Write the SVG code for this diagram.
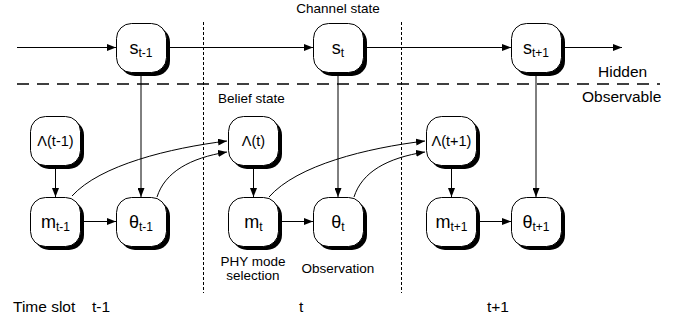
<svg xmlns="http://www.w3.org/2000/svg" width="693" height="320" viewBox="0 0 693 320">
  <defs>
    <marker id="arrow" markerUnits="userSpaceOnUse" markerWidth="9" markerHeight="7" refX="9" refY="3.5" orient="auto">
      <path d="M0,0 L9,3.5 L0,7 z" fill="#000"/>
    </marker>
  </defs>
  <style>
    .node .shadow { fill: #000; }
    .node .body { fill: #fff; stroke: #000; stroke-width: 1; }
    .lbl { font-family: "Liberation Sans", Arial, sans-serif; fill: #000; }
    .main { font-size: 18px; }
    .sub { font-size: 12px; }
    .lam { font-size: 14.5px; }
    .note { font-size: 13.5px; }
    .big { font-size: 15.5px; }
    .edge { fill: none; stroke: #000; stroke-width: 1; marker-end: url(#arrow); }
    .sep { fill: none; stroke: #000; stroke-width: 1; stroke-dasharray: 3 2; }
    .divide { fill: none; stroke: #000; stroke-width: 1.5; stroke-dasharray: 12 8; }
  </style>

  <!-- time-slot separators and hidden/observable divide -->
  <g id="separators">
    <line class="sep" x1="203.5" y1="22" x2="203.5" y2="293"/>
    <line class="sep" x1="401.5" y1="22" x2="401.5" y2="293"/>
    <line class="divide" x1="17" y1="84" x2="660" y2="84"/>
  </g>

  <g id="connectors">
    <!-- channel state chain -->
    <line class="edge" x1="17" y1="47.5" x2="116" y2="47.5"/>
    <line class="edge" x1="170" y1="47.5" x2="313" y2="47.5"/>
    <line class="edge" x1="367" y1="47.5" x2="511" y2="47.5"/>
    <line class="edge" x1="565" y1="47.5" x2="622" y2="47.5"/>
    <!-- channel state to observation -->
    <line class="edge" x1="141" y1="76" x2="141" y2="197"/>
    <line class="edge" x1="338" y1="76" x2="338" y2="197"/>
    <line class="edge" x1="536" y1="76" x2="536" y2="197"/>
    <!-- belief state to mode selection -->
    <line class="edge" x1="55.5" y1="169" x2="55.5" y2="197"/>
    <line class="edge" x1="253.5" y1="169" x2="253.5" y2="197"/>
    <line class="edge" x1="451.5" y1="169" x2="451.5" y2="197"/>
    <!-- mode selection to observation -->
    <line class="edge" x1="84" y1="221.5" x2="116" y2="221.5"/>
    <line class="edge" x1="282" y1="221.5" x2="313" y2="221.5"/>
    <line class="edge" x1="480" y1="221.5" x2="511" y2="221.5"/>
    <!-- belief update -->
    <path class="edge" d="M72,196 C100,165 170,148 227,141"/>
    <path class="edge" d="M157,197 C165,172 190,158 227,152"/>
    <path class="edge" d="M269,197 C297,165 367,148 425,141"/>
    <path class="edge" d="M354,197 C362,172 387,158 425,152"/>
  </g>

  <!-- channel states -->
  <g id="s_prev" class="node">
    <rect class="shadow" x="120" y="27" width="50" height="49" rx="15"/>
    <rect class="body" x="116.5" y="23.5" width="50" height="49" rx="15"/>
    <text class="lbl" x="141" y="54" text-anchor="middle"><tspan class="main">s</tspan><tspan class="sub" dy="3">t-1</tspan></text>
  </g>
  <g id="s_cur" class="node">
    <rect class="shadow" x="317" y="27" width="50" height="49" rx="15"/>
    <rect class="body" x="313.5" y="23.5" width="50" height="49" rx="15"/>
    <text class="lbl" x="338" y="54" text-anchor="middle"><tspan class="main">s</tspan><tspan class="sub" dy="3">t</tspan></text>
  </g>
  <g id="s_next" class="node">
    <rect class="shadow" x="515" y="27" width="50" height="49" rx="15"/>
    <rect class="body" x="511.5" y="23.5" width="50" height="49" rx="15"/>
    <text class="lbl" x="536" y="54" text-anchor="middle"><tspan class="main">s</tspan><tspan class="sub" dy="3">t+1</tspan></text>
  </g>

  <!-- belief states -->
  <g id="lambda_prev" class="node">
    <rect class="shadow" x="34" y="120" width="50" height="49" rx="15"/>
    <rect class="body" x="30.5" y="116.5" width="50" height="49" rx="15"/>
    <text class="lbl lam" x="55.5" y="146" text-anchor="middle">Λ(t-1)</text>
  </g>
  <g id="lambda_cur" class="node">
    <rect class="shadow" x="232" y="120" width="50" height="49" rx="15"/>
    <rect class="body" x="228.5" y="116.5" width="50" height="49" rx="15"/>
    <text class="lbl lam" x="253.5" y="146" text-anchor="middle">Λ(t)</text>
  </g>
  <g id="lambda_next" class="node">
    <rect class="shadow" x="430" y="120" width="50" height="49" rx="15"/>
    <rect class="body" x="426.5" y="116.5" width="50" height="49" rx="15"/>
    <text class="lbl lam" x="451.5" y="146" text-anchor="middle">Λ(t+1)</text>
  </g>

  <!-- mode selections -->
  <g id="m_prev" class="node">
    <rect class="shadow" x="34" y="201" width="50" height="49" rx="15"/>
    <rect class="body" x="30.5" y="197.5" width="50" height="49" rx="15"/>
    <text class="lbl" x="55.5" y="228" text-anchor="middle"><tspan class="main">m</tspan><tspan class="sub" dy="3">t-1</tspan></text>
  </g>
  <g id="m_cur" class="node">
    <rect class="shadow" x="232" y="201" width="50" height="49" rx="15"/>
    <rect class="body" x="228.5" y="197.5" width="50" height="49" rx="15"/>
    <text class="lbl" x="253.5" y="228" text-anchor="middle"><tspan class="main">m</tspan><tspan class="sub" dy="3">t</tspan></text>
  </g>
  <g id="m_next" class="node">
    <rect class="shadow" x="430" y="201" width="50" height="49" rx="15"/>
    <rect class="body" x="426.5" y="197.5" width="50" height="49" rx="15"/>
    <text class="lbl" x="451.5" y="228" text-anchor="middle"><tspan class="main">m</tspan><tspan class="sub" dy="3">t+1</tspan></text>
  </g>

  <!-- observations -->
  <g id="theta_prev" class="node">
    <rect class="shadow" x="120" y="201" width="50" height="49" rx="15"/>
    <rect class="body" x="116.5" y="197.5" width="50" height="49" rx="15"/>
    <text class="lbl" x="141" y="228" text-anchor="middle"><tspan class="main">θ</tspan><tspan class="sub" dy="3">t-1</tspan></text>
  </g>
  <g id="theta_cur" class="node">
    <rect class="shadow" x="317" y="201" width="50" height="49" rx="15"/>
    <rect class="body" x="313.5" y="197.5" width="50" height="49" rx="15"/>
    <text class="lbl" x="338" y="228" text-anchor="middle"><tspan class="main">θ</tspan><tspan class="sub" dy="3">t</tspan></text>
  </g>
  <g id="theta_next" class="node">
    <rect class="shadow" x="515" y="201" width="50" height="49" rx="15"/>
    <rect class="body" x="511.5" y="197.5" width="50" height="49" rx="15"/>
    <text class="lbl" x="536" y="228" text-anchor="middle"><tspan class="main">θ</tspan><tspan class="sub" dy="3">t+1</tspan></text>
  </g>

  <!-- annotations -->
  <g id="labels">
    <text class="lbl note" x="338" y="13" text-anchor="middle">Channel state</text>
    <text class="lbl note" x="218" y="103">Belief state</text>
    <text class="lbl big" x="598" y="77">Hidden</text>
    <text class="lbl big" x="582" y="102">Observable</text>
    <text class="lbl note" x="253" y="266" text-anchor="middle">PHY mode</text>
    <text class="lbl note" x="253" y="280" text-anchor="middle">selection</text>
    <text class="lbl note" x="338" y="273" text-anchor="middle">Observation</text>
    <text class="lbl big" x="13" y="312">Time slot</text>
    <text class="lbl big" x="92" y="312">t-1</text>
    <text class="lbl big" x="299" y="312">t</text>
    <text class="lbl big" x="487" y="312">t+1</text>
  </g>
</svg>
